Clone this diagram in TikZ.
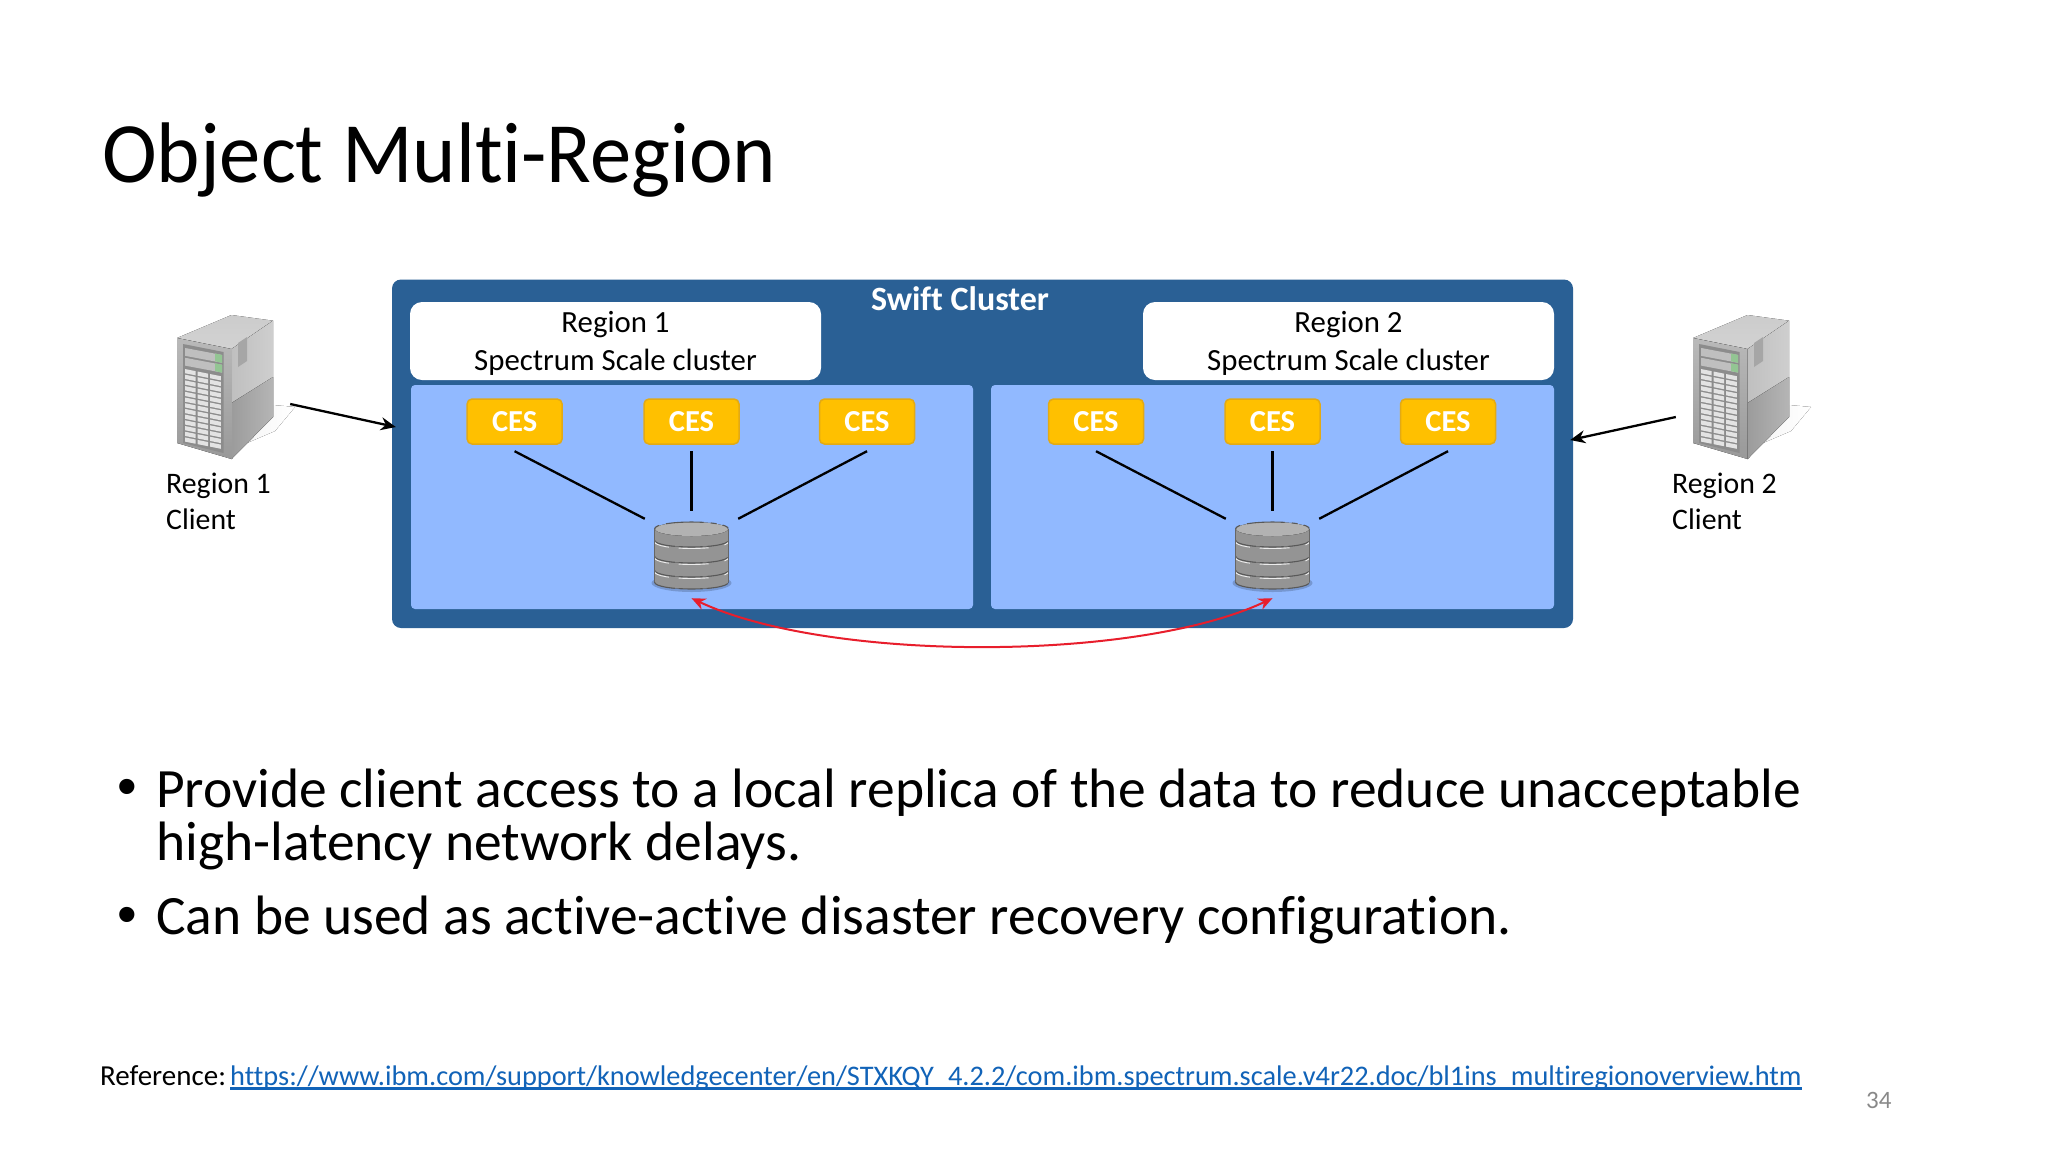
\documentclass[tikz,border=0pt]{standalone}
\usepackage{fontspec}
\setmainfont{Carlito}[Ligatures=CommonOff]
\newfontfamily\titlefont{Carlito}[Ligatures=CommonOff,FakeStretch=0.96]
\newfontfamily\bulletfont{Liberation Sans}
\usetikzlibrary{arrows.meta,shapes.geometric}
\definecolor{outerblue}{HTML}{2A6095}
\definecolor{innerblue}{HTML}{91B9FF}
\definecolor{cesfill}{HTML}{FFC000}
\definecolor{cesline}{HTML}{E3AA14}
\definecolor{replred}{HTML}{E81E2C}
\definecolor{linkblue}{HTML}{1163B8}
\definecolor{pagegray}{HTML}{898989}
\newsavebox{\urlbox}
\newcommand{\linkline}[1]{\sbox{\urlbox}{#1}\usebox{\urlbox}\llap{\rule[-4.7pt]{\wd\urlbox}{2.5pt}}}
\tikzset{
  fs/.style={font=\fontsize{#1}{#1}\selectfont},
  txt/.style={inner sep=0pt,anchor=base west,text=black},
  outerbox/.style={fill=outerblue,draw=none,rounded corners=9pt,inner sep=0pt,minimum width=1181pt,minimum height=348.5pt},
  whitebox/.style={fill=white,draw=none,rounded corners=12pt,inner sep=0pt,minimum width=411pt,minimum height=78pt},
  regtxt/.style={inner sep=0pt,anchor=base,align=center,text=black,font=\fontsize{30.8}{38}\selectfont},
  bluebox/.style={fill=innerblue,draw=none,rounded corners=4pt,inner sep=0pt,minimum height=224pt},
  ces/.style={fill=cesfill,draw=cesline,line width=1.5pt,rounded corners=5pt,inner sep=0pt,minimum width=95pt,minimum height=45pt,
     text=white,font=\fontsize{30.5}{30.5}\selectfont\bfseries},
  cesanchor/.style={inner sep=0pt,minimum width=95pt,minimum height=59pt},
  dbbox/.style={inner sep=0pt,minimum width=93pt,minimum height=85pt},
  srvbox/.style={inner sep=0pt,minimum width=100pt,minimum height=145pt},
  link/.style={line width=2.3pt,black},
  access/.style={line width=2.3pt,black,-{Stealth[length=15pt,width=13pt]}},
  repl/.style={line width=2pt,replred,{Stealth[length=14pt,width=12pt]}-{Stealth[length=14pt,width=12pt]}},
  server/.pic={
    \fill[left color=gray!7,right color=white] (72,128) -- (98,90) -- (120,92) -- (100,116) -- cycle;
    \fill[top color=gray!40,bottom color=gray!35] (2,23) -- (56.5,0) -- (98,5.7) -- (56.5,34) -- cycle;
    \fill[left color=gray!50,right color=gray!38] (56.5,34) -- (98,5.7) -- (98,102) -- (56.5,144) -- cycle;
    \fill[left color=gray!78,right color=gray!58] (56.5,88) -- (98,62) -- (98,102) -- (56.5,144) -- cycle;
    \fill[gray!70] (63,28) -- (72,22) -- (72,46) -- (63,52) -- cycle;
    \fill[top color=gray!55,bottom color=gray!80] (2,23) -- (56.5,34) -- (56.5,144) -- (2,128) -- cycle;
    \fill[gray!90] (8,29) -- (48.5,37) -- (48.5,138) -- (8,128) -- cycle;
    \foreach \r in {0,1}{
      \pgfmathsetmacro\ta{0.02+0.1*\r}
      \pgfmathsetmacro\tb{0.1+0.1*\r}
      \fill[gray!50] ({10},{31+\ta*98}) -- ({47},{38+\ta*98}) -- ({47},{38+\tb*98}) -- ({10},{31+\tb*98}) -- cycle;
      \fill[green!30!gray!65] ({40},{36.5+\ta*98}) -- ({47},{38+\ta*98}) -- ({47},{38+\tb*98}) -- ({40},{36.5+\tb*98}) -- cycle;
    }
    \foreach \c in {0,1,2}{
      \foreach \r in {0,...,12}{
        \pgfmathsetmacro\xa{10+12.6*\c}
        \pgfmathsetmacro\xb{\xa+10.6}
        \pgfmathsetmacro\ya{54+5.7*\r+0.2*(\xa-10)}
        \pgfmathsetmacro\yb{54+5.7*\r+0.2*(\xb-10)}
        \fill[gray!22] (\xa,\ya) -- (\xb,\yb) -- (\xb,\yb+4.2) -- (\xa,\ya+4.2) -- cycle;
      }
    }
  },
  database/.pic={
    \fill[black,opacity=.18] (0,61) ellipse[x radius=40,y radius=9];
    \foreach \ya/\yb in {48/60,34/48,18/34,7/18}{
      \fill[left color=black!42,middle color=black!20,right color=black!42] (-37,\ya) -- (-37,\yb) .. controls (-37,\yb+9.3) and (37,\yb+9.3) .. (37,\yb) -- (37,\ya) -- cycle;
      \draw[black!65,line width=1.1pt,dash pattern=on 22pt off 4pt on 24pt off 4pt on 22pt] (-37,\yb) .. controls (-37,\yb+9.3) and (37,\yb+9.3) .. (37,\yb);
    }
    \foreach \yb in {19.5,35.5,49.5}{
      \draw[white!85!gray,line width=.9pt,dash pattern=on 16pt off 10pt on 30pt] (-37,\yb) .. controls (-37,\yb+9.3) and (37,\yb+9.3) .. (37,\yb);
    }
    \fill[left color=black!30,middle color=black!10,right color=black!30] (0,7) ellipse[x radius=36.5,y radius=7];
    \draw[black!65,line width=1.1pt,dash pattern=on 6pt off 7pt on 38pt off 7pt on 6pt] (-37,7) .. controls (-37,-2.3) and (37,-2.3) .. (37,7);
    \draw[black!60,line width=1pt] (-37,7) -- (-37,60);
    \draw[black!60,line width=1pt] (37,7) -- (37,60);
  }
}
\begin{document}
\begin{tikzpicture}[x=1pt,y=-1pt]
\useasboundingbox (0,0) rectangle (2048,1152);
\fill[white] (0,0) rectangle (2048,1152);

% title
\node[txt,font=\fontsize{86}{86}\titlefont] (title) at (102,182) {Object Multi-Region};

% frame
\node[outerbox] (swift) at (982.5,453.75) {};
\node[txt,anchor=base,text=white,font=\fontsize{34}{34}\selectfont\bfseries] (swiftlbl) at (960,310) {Swift Cluster};
\node[whitebox] (reg1) at (615.5,341) {};
\node[whitebox] (reg2) at (1348.5,341) {};
\node[regtxt] (reg1t) at (615.5,370.4) {Region 1\\Spectrum Scale cluster};
\node[regtxt] (reg2t) at (1348.5,370.4) {Region 2\\Spectrum Scale cluster};
\node[bluebox,minimum width=562pt] (blue1) at (692,497) {};
\node[bluebox,minimum width=563pt] (blue2) at (1272.5,497) {};

% CES
\foreach \n/\x in {a/514.6,b/691.5,c/867,d/1096,e/1272.5,f/1448}{
  \node[ces] (ces\n) at (\x,421.5) {CES};
  \node[cesanchor] (cesp\n) at (\x,421.5) {};
}

% databases
\node[dbbox] (db1) at (691.5,553.5) {};
\node[dbbox] (db2) at (1272.5,553.5) {};
\pic at (691.5,522) {database};
\pic at (1272.5,522) {database};

% connectors
\draw[link] (cespa.south) -- ([yshift=-8pt]db1.north west);
\draw[link] (cespb.south) -- (db1.north);
\draw[link] (cespc.south) -- ([yshift=-8pt]db1.north east);
\draw[link] (cespd.south) -- ([yshift=-8pt]db2.north west);
\draw[link] (cespe.south) -- (db2.north);
\draw[link] (cespf.south) -- ([yshift=-8pt]db2.north east);

% replication
\draw[repl] ([yshift=-2pt]db1.south) .. controls +(136,64) and +(-136,64) .. ([yshift=-2pt]db2.south);

% clients
\node[srvbox] (srv1) at (225,387.5) {};
\node[srvbox] (srv2) at (1741,387.5) {};
\pic at (175,315) {server};
\pic at (1691,315) {server};
\draw[access] ([xshift=15pt,yshift=-16.5pt]srv1.east) -- ([xshift=4pt,yshift=26.75pt]swift.west);
\draw[access] ([xshift=-15pt,yshift=-29.5pt]srv2.west) -- ([xshift=-3pt,yshift=13.75pt]swift.east);
\node[txt,align=left,font=\fontsize{29.8}{35.5}\selectfont] (cl1) at (166,529) {Region 1\\Client};
\node[txt,align=left,font=\fontsize{29.8}{35.5}\selectfont] (cl2) at (1672,529) {Region 2\\Client};

% bullets
\node[txt,font=\fontsize{56}{56}\bulletfont] (b1) at (117,805) {•};
\node[txt,font=\fontsize{56}{56}\bulletfont] (b2) at (117,933) {•};
\node[txt,fs=55.5] (t1) at (156,807) {Provide client access to a local replica of the data to reduce unacceptable};
\node[txt,fs=55.5] (t2) at (156,860) {high-latency network delays.};
\node[txt,fs=55.5] (t3) at (156,934) {Can be used as active-active disaster recovery configuration.};

% footer
\node[txt,fs=29] (ref) at (100,1085) {Reference:};
\node[txt,fs=28.35,text=linkblue] (url) at (230,1085) {\linkline{https://www.ibm.com/support/knowledgecenter/en/STXKQY\_4.2.2/com.ibm.spectrum.scale.v4r22.doc/bl1ins\_multiregionoverview.htm}};
\node[txt,fs=25,text=pagegray] (pg) at (1866,1108) {34};
\end{tikzpicture}
\end{document}
